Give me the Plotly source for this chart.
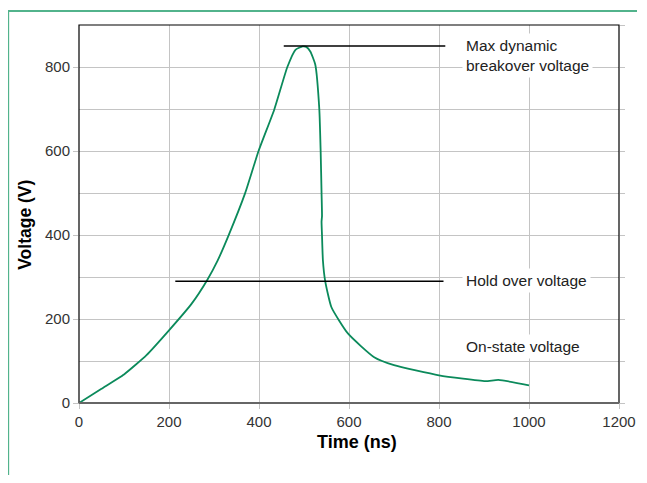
import plotly.graph_objects as go

# Voltage waveform (ns, V)
time_ns = [0, 50, 100, 150, 200, 250, 285, 308, 332, 369, 399, 434, 463, 481, 497, 505,
           514, 525, 534, 537, 539, 540, 539, 540, 542, 547, 561, 598, 656, 700, 800,
           903, 932, 1000]
voltage = [0, 34, 68, 114, 173, 236, 293, 339, 398, 499, 600, 699, 800, 841, 849, 848,
           837, 806, 700, 600, 500, 445, 432, 400, 340, 291, 228, 165, 109, 90, 66,
           52, 55, 42]

# Reference levels
max_line_x = [455, 814]
max_line_v = 850
hold_line_x = [214, 810]
hold_line_v = 290

labels = ["Max dynamic<br>breakover voltage", "Hold over voltage", "On-state voltage"]
label_x = [850, 850, 850]
label_y = [827, 292, 135]

x_ticks = [0, 200, 400, 600, 800, 1000, 1200]
y_ticks = [0, 200, 400, 600, 800]

GREEN = "#0b8a5b"
GRID = "#c4c4c4"
FONT = "Liberation Sans"

fig = go.Figure()
fig.add_trace(go.Scatter(x=time_ns, y=voltage, mode="lines",
                         line=dict(color=GREEN, width=1.8, shape="spline", smoothing=0.5),
                         hoverinfo="skip", showlegend=False))
fig.add_trace(go.Scatter(x=max_line_x, y=[max_line_v] * 2, mode="lines",
                         line=dict(color="black", width=1.6), showlegend=False))
fig.add_trace(go.Scatter(x=hold_line_x, y=[hold_line_v] * 2, mode="lines",
                         line=dict(color="black", width=1.6), showlegend=False))
# right-side ticks every 100
fig.add_trace(go.Scatter(x=[None], y=[None], yaxis="y2", showlegend=False))

for t, xx, yy in zip(labels, label_x, label_y):
    fig.add_annotation(x=xx, y=yy, text=t, showarrow=False, xanchor="left", yanchor="middle",
                       align="left", bgcolor="white", borderpad=3,
                       font=dict(family=FONT, size=15.5, color="#222"))

fig.add_annotation(xref="paper", yref="paper", x=0.515, y=-0.104, text="<b>Time (ns)</b>",
                   showarrow=False, xanchor="center", yanchor="middle",
                   font=dict(family=FONT, size=18, color="black"))
fig.add_annotation(xref="paper", yref="paper", x=-0.0988, y=0.4705, text="<b>Voltage (V)</b>",
                   showarrow=False, xanchor="center", yanchor="middle", textangle=-90,
                   font=dict(family=FONT, size=17.5, color="black"))

fig.update_layout(
    width=629, height=467,
    margin=dict(l=71, r=18, t=17, b=72),
    paper_bgcolor="white", plot_bgcolor="white",
    font=dict(family=FONT, color="#333", size=15),
    xaxis=dict(range=[0, 1200], tickvals=x_ticks, showgrid=True, gridcolor=GRID, gridwidth=1,
               zeroline=False, showline=False, ticks="outside", ticklen=5, tickcolor=GRID,
               automargin=False, ticklabeloverflow="allow",
               tickfont=dict(size=15, color="#333")),
    yaxis=dict(range=[0, 900], tickvals=y_ticks, showgrid=True, gridcolor=GRID, gridwidth=1,
               minor=dict(dtick=100, showgrid=True, gridcolor=GRID, gridwidth=1),
               zeroline=False, showline=False, ticks="outside", ticklen=5, tickcolor=GRID,
               automargin=False, tickfont=dict(size=15, color="#333")),
    yaxis2=dict(range=[0, 900], overlaying="y", side="right", dtick=100, showticklabels=False,
                showgrid=False, zeroline=False, ticks="outside", ticklen=5, tickcolor=GRID,
                automargin=False),
    shapes=[
        dict(type="rect", xref="paper", yref="paper", x0=0, y0=0, x1=1, y1=1,
             line=dict(color="black", width=1.2), layer="above"),
        dict(type="line", xref="paper", yref="paper", x0=0, y0=0, x1=1, y1=0,
             line=dict(color="#666", width=2.2), layer="above"),
        dict(type="rect", xref="paper", yref="paper", x0=-0.131, y0=-0.3, x1=1.2, y1=1.037,
             line=dict(color="#52b38c", width=1.8), layer="below"),
    ],
)

fig.write_html("out.html")
